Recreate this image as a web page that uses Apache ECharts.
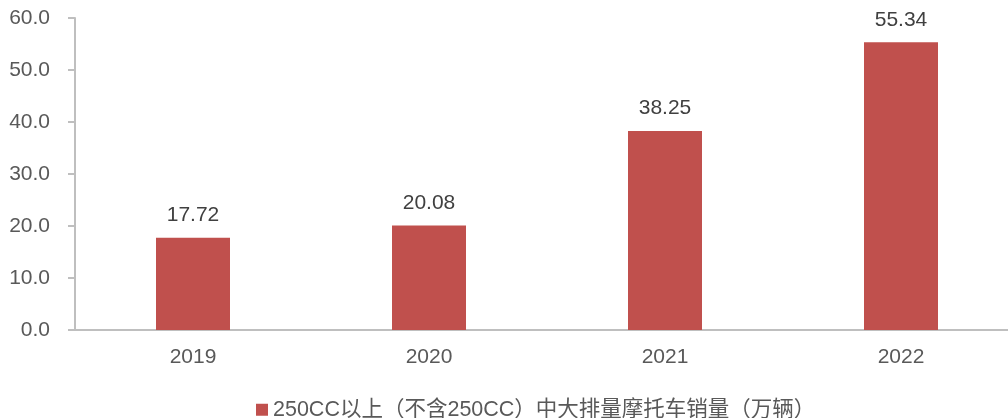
<!DOCTYPE html>
<html>
<head>
<meta charset="utf-8">
<script src="https://cdn.jsdelivr.net/npm/echarts@6/dist/echarts.min.js"></script>
<style>
  html, body { margin: 0; padding: 0; background: #ffffff; }
  #chart { width: 1008px; height: 418px; }
</style>
</head>
<body>
<div id="chart"></div>
<script>
// 中大排量摩托车销量（万辆）
const years = ['2019', '2020', '2021', '2022'];
const sales = [17.72, 20.08, 38.25, 55.34];
const seriesName = '250CC以上（不含250CC）中大排量摩托车销量（万辆）';

const latin = '"Liberation Sans", Arial, "Noto Sans CJK SC", sans-serif';

const chart = echarts.init(document.getElementById('chart'), null, { renderer: 'canvas' });
chart.setOption({
  animation: false,
  backgroundColor: '#ffffff',
  // the plot runs slightly past the right edge of the canvas
  grid: { left: 75, width: 944, top: 18, bottom: 88, containLabel: false, outerBoundsMode: 'none' },
  legend: {
    data: [seriesName],
    left: 251,
    top: 394,
    icon: 'rect',
    itemWidth: 12,
    itemHeight: 12,
    itemGap: 4,
    textStyle: { fontFamily: latin, fontSize: 21.5, color: '#595959' }
  },
  xAxis: {
    type: 'category',
    data: years,
    axisLine: { lineStyle: { color: '#bfbfbf', width: 2 } },
    axisTick: { show: false },
    axisLabel: { margin: 17, fontFamily: latin, fontSize: 21, color: '#595959' }
  },
  yAxis: {
    type: 'value',
    min: 0,
    max: 60,
    interval: 10,
    axisLine: { show: true, lineStyle: { color: '#bfbfbf', width: 2 } },
    axisTick: { show: true, length: 7, lineStyle: { color: '#bfbfbf', width: 2 } },
    splitLine: { show: false },
    axisLabel: {
      margin: 25,
      fontFamily: latin,
      fontSize: 21,
      color: '#595959',
      formatter: v => v.toFixed(1)
    }
  },
  series: [{
    name: seriesName,
    type: 'bar',
    data: sales,
    barWidth: 74,
    itemStyle: { color: '#c0504d' },
    label: {
      show: true,
      position: 'top',
      distance: 12,
      fontFamily: latin,
      fontSize: 21,
      color: '#404040',
      formatter: p => p.value.toFixed(2)
    }
  }]
});
</script>
</body>
</html>
